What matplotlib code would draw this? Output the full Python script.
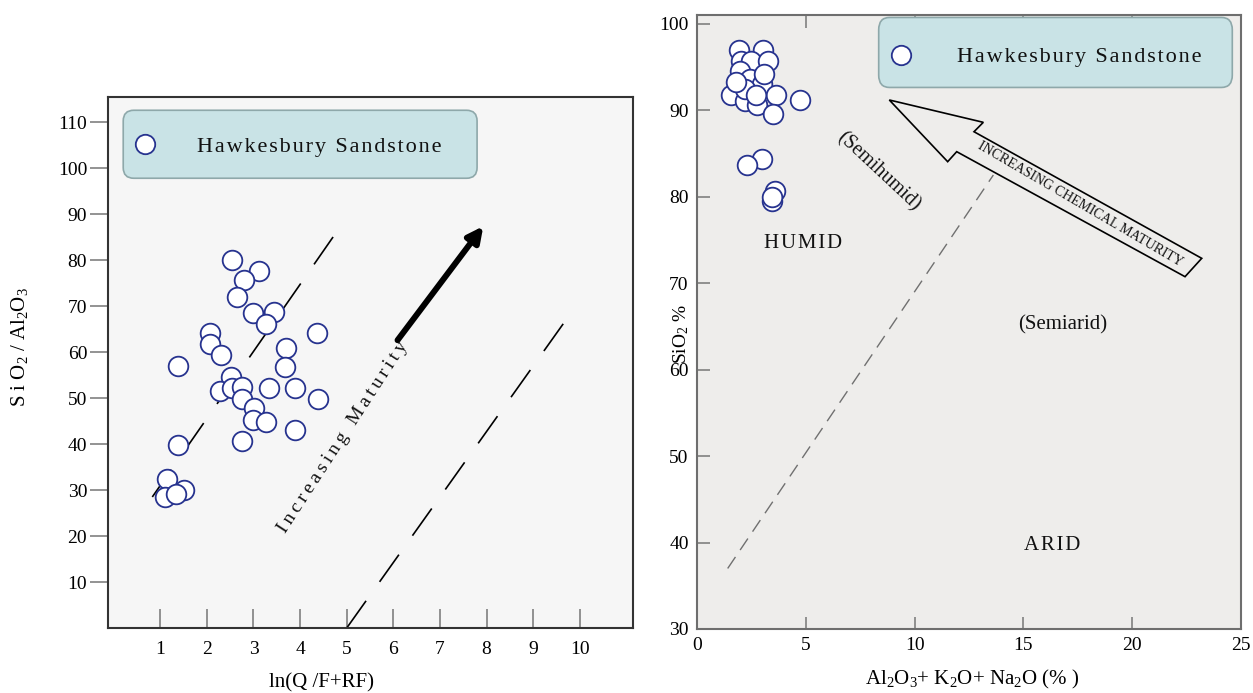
import matplotlib
matplotlib.use("Agg")
import matplotlib.pyplot as plt
from matplotlib.patches import FancyBboxPatch, Polygon
from matplotlib.lines import Line2D

# ---------------- data ----------------
# Left panel: ln(Q/F+RF) vs SiO2/Al2O3
left_x = [2.54, 3.12, 2.80, 2.65, 2.98, 3.45, 3.26, 2.07, 2.06, 2.30, 4.36, 3.70,
          3.68, 1.39, 2.52, 2.29, 2.54, 2.75, 2.75, 3.02, 3.00, 3.26, 3.33, 3.89,
          4.38, 3.90, 2.75, 1.38, 1.14, 1.11, 1.50, 1.34]
left_y = [80.0, 77.7, 75.7, 72.0, 68.6, 68.8, 66.2, 64.1, 61.7, 59.3, 64.1, 60.8,
          56.8, 57.0, 54.6, 51.5, 52.2, 52.5, 49.9, 47.8, 45.2, 44.7, 52.2, 52.2,
          49.9, 43.0, 40.7, 39.8, 32.5, 28.5, 30.0, 29.1]

# Right panel: Al2O3+K2O+Na2O vs SiO2
right_x = [1.94, 3.02, 2.01, 2.47, 3.28, 1.98, 2.44, 2.97, 1.56, 3.63, 4.73, 2.21,
           2.77, 3.51, 2.97, 2.28, 3.58, 3.43, 3.43, 2.20, 2.70, 3.10, 1.80]
right_y = [96.9, 96.9, 95.7, 95.7, 95.7, 94.5, 93.6, 93.0, 91.8, 91.8, 91.2, 91.0,
           90.6, 89.5, 84.4, 83.6, 80.7, 79.5, 80.0, 92.5, 91.8, 94.2, 93.2]

# Guide lines (data coordinates)
left_line1_x, left_line1_y = [0.83, 4.93], [28.5, 88.3]
left_line2_x, left_line2_y = [5.00, 9.73], [0.0, 67.4]
left_arrow_start, left_arrow_end = (6.09, 62.6), (7.93, 87.4)
right_line_x, right_line_y = [1.41, 13.62], [37.0, 82.5]

left_xticks = list(range(1, 11))
left_yticks = list(range(10, 111, 10))
right_xticks = [0, 5, 10, 15, 20, 25]
right_yticks = [30, 40, 50, 60, 70, 80, 90, 100]

series_label = "Hawkesbury Sandstone"

# ---------------- style ----------------
plt.rcParams["font.family"] = ["Liberation Serif", "DejaVu Serif"]
plt.rcParams["mathtext.default"] = "regular"

EDGE = "#27338f"
LEG_FACE = "#c9e3e6"
LEG_EDGE = "#8ea8aa"
HAIR = "\u200a"
THIN = "\u2009"


def spaced(s, sep):
    return sep.join(s)


fig = plt.figure(figsize=(12.53, 6.93), dpi=100)
fig.patch.set_facecolor("white")

W, H = 1253, 693
ax1 = fig.add_axes([108 / W, 1 - 628 / H, 525 / W, 531 / H])
ax2 = fig.add_axes([697 / W, 1 - 629 / H, 544 / W, 614 / H])

# ---------------- left panel ----------------
ax1.set_facecolor("#f6f6f6")
ax1.set_xlim(-0.12, 11.14)
ax1.set_ylim(0, 115.5)
ax1.set_xticks(left_xticks)
ax1.set_yticks(left_yticks)
ax1.tick_params(axis="y", direction="out", length=13, width=1.2, color="#808080",
                labelsize=14, pad=2)
ax1.tick_params(axis="x", direction="in", length=14, width=1.2, color="#808080",
                labelsize=14, pad=9)
for sp in ax1.spines.values():
    sp.set_color("#333333")
    sp.set_linewidth(1.5)

ax1.plot(left_line1_x, left_line1_y, color="black", lw=1.2, dashes=(20, 14), zorder=2)
ax1.plot(left_line2_x, left_line2_y, color="black", lw=1.2, dashes=(20, 14), zorder=2)
ax1.annotate("", xy=left_arrow_end, xytext=left_arrow_start,
             arrowprops=dict(arrowstyle="-|>,head_length=0.9,head_width=0.45",
                             lw=4.3, color="black", shrinkA=0, shrinkB=0),
             zorder=2)
ax1.text(0.447, 0.36, spaced("Increasing Maturity", THIN), transform=ax1.transAxes,
         rotation=57, ha="center", va="center", fontsize=14, color="#111111")

ax1.scatter(left_x, left_y, s=200, facecolor="white", edgecolor=EDGE, linewidth=1.3,
            zorder=3)

# legend box
ax1.add_patch(FancyBboxPatch((0.040, 0.858), 0.652, 0.106,
                             boxstyle="round,pad=0.011,rounding_size=0.02",
                             transform=ax1.transAxes, facecolor=LEG_FACE,
                             edgecolor=LEG_EDGE, lw=1.2, zorder=4))
ax1.add_line(Line2D([0.0705], [0.911], transform=ax1.transAxes, marker="o",
                    markersize=14, markerfacecolor="white", markeredgecolor=EDGE,
                    markeredgewidth=1.3, zorder=5))
ax1.text(0.402, 0.905, spaced(series_label, HAIR), transform=ax1.transAxes,
         ha="center", va="center", fontsize=16, color="#111111", zorder=5)

ax1.text(0.406, -0.104, "ln(Q /F+RF)", transform=ax1.transAxes, ha="center",
         va="center", fontsize=15)
ax1.text(-0.168, 0.53, "S i O$_2$ / Al$_2$O$_3$", transform=ax1.transAxes,
         ha="center", va="center", rotation=90, fontsize=15)

# ---------------- right panel ----------------
ax2.set_facecolor("#eeedeb")
ax2.set_xlim(0, 25)
ax2.set_ylim(30, 101)
ax2.set_xticks(right_xticks)
ax2.set_yticks(right_yticks)
ax2.tick_params(axis="both", direction="in", length=9, width=1.2, color="#808080",
                labelsize=14)
ax2.tick_params(axis="y", pad=6)
ax2.tick_params(axis="x", pad=6, top=True)
for sp in ax2.spines.values():
    sp.set_color("#6e6e6e")
    sp.set_linewidth(1.5)

ax2.plot(right_line_x, right_line_y, color="#707070", lw=1.0, dashes=(10, 6), zorder=2)

arrow_verts = [(0.3535, 0.8616), (0.5263, 0.8252), (0.5092, 0.8099), (0.9278, 0.6037),
               (0.8971, 0.5738), (0.4774, 0.7774), (0.4608, 0.7611)]
ax2.add_patch(Polygon(arrow_verts, closed=True, transform=ax2.transAxes,
                      facecolor="#eeedeb", edgecolor="black", lw=1.2, zorder=2))
ax2.text(0.705, 0.692, "INCREASING CHEMICAL MATURITY", transform=ax2.transAxes,
         rotation=-30.3, ha="center", va="center", fontsize=10, color="#111111",
         zorder=3)

ax2.text(4.87, 74.6, spaced("HUMID", HAIR), ha="center", va="center", fontsize=15,
         color="#111111")
ax2.text(16.82, 65.2, "(Semiarid)", ha="center", va="center", fontsize=15,
         color="#111111")
ax2.text(16.31, 39.6, spaced("ARID", HAIR), ha="center", va="center", fontsize=15,
         color="#111111")
ax2.text(8.32, 82.9, "(Semihumid)", ha="center", va="center", fontsize=14.5,
         rotation=-43, color="#111111")

ax2.scatter(right_x, right_y, s=200, facecolor="white", edgecolor=EDGE, linewidth=1.3,
            zorder=3)

ax2.add_patch(FancyBboxPatch((0.345, 0.893), 0.628, 0.092,
                             boxstyle="round,pad=0.011,rounding_size=0.02",
                             transform=ax2.transAxes, facecolor=LEG_FACE,
                             edgecolor=LEG_EDGE, lw=1.2, zorder=4))
ax2.add_line(Line2D([0.375], [0.935], transform=ax2.transAxes, marker="o",
                    markersize=14, markerfacecolor="white", markeredgecolor=EDGE,
                    markeredgewidth=1.3, zorder=5))
ax2.text(0.703, 0.930, spaced(series_label, HAIR), transform=ax2.transAxes,
         ha="center", va="center", fontsize=16, color="#111111", zorder=5)

ax2.text(0.505, -0.083, "Al$_2$O$_3$+ K$_2$O+ Na$_2$O (% )", transform=ax2.transAxes,
         ha="center", va="center", fontsize=15)
ax2.text(-0.03, 0.48, "SiO$_2$ %", transform=ax2.transAxes, ha="center",
         va="center", rotation=90, fontsize=14)

fig.savefig("out.png", dpi=100, facecolor="white")
